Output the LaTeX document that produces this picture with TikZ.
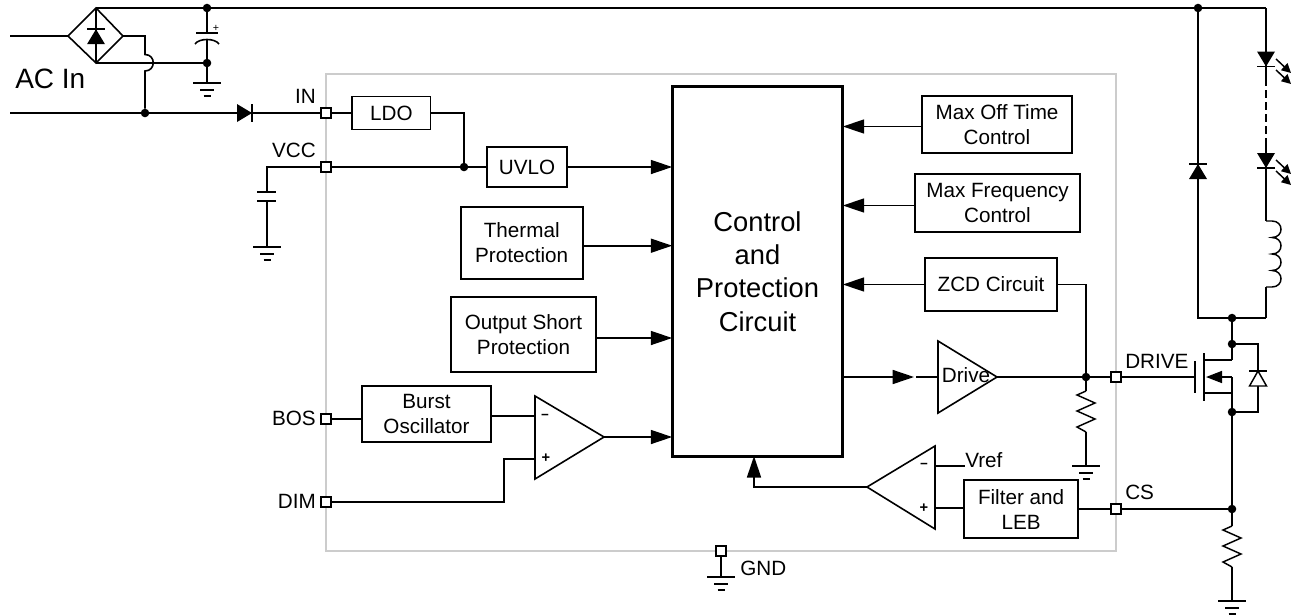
\documentclass[tikz,border=0pt]{standalone}
\usepackage{fontspec}
\setmainfont{Liberation Sans}
\usepackage{xcolor}
\definecolor{chipgray}{HTML}{CCCCCC}
\usepackage{tikz}
\usetikzlibrary{arrows.meta,calc}
\tikzset{
    gnd/.pic={\draw[line width=1.1pt,-] (-14,0) -- (14,0) (-7,7) -- (7,7) (-3.5,13) -- (3.5,13);},
    zigzag/.pic={\draw[line width=1.1pt,-] (0,0) -- (-9,4) -- (9,12) -- (-9,20) -- (9,28) -- (-9,36) -- (0,41);},
    diode/.pic={\fill (0,-7.5) -- (-9,7.5) -- (9,7.5) -- cycle;
                \draw[line width=1.1pt,-] (-9,-7.5) -- (9,-7.5);},
    bodydiode/.pic={\draw[fill=white,line width=1.1pt] (0,-7.5) -- (-8.5,7.5) -- (8.5,7.5) -- cycle;
                \draw[line width=1.1pt,-] (-9,-7.5) -- (9,-7.5);},
    glow/.pic={\draw[line width=1.1pt,-{Triangle[length=7pt,width=7pt]}] (0,0) -- (15,14);
               \draw[line width=1.1pt,-{Triangle[length=7pt,width=7pt]}] (0,11) -- (15,25);},
    coil/.pic={\draw[line width=1.1pt,-] (0,0) -- (6,0) .. controls +(12,0) and +(12,0) .. (6,16.5)
                    .. controls +(12,0) and +(12,0) .. (6,33) .. controls +(12,0) and +(12,0) .. (6,49.5)
                    .. controls +(12,0) and +(12,0) .. (6,66) -- (0,66);}
}
\begin{document}
\begin{tikzpicture}[x=0.75pt,y=-0.75pt,>={Triangle[length=16pt,width=10.5pt]},font=\fontsize{15.5}{18.75}\selectfont]
            \tikzstyle{wire}=[line width=1.2pt]
            \tikzstyle{feed}=[line width=1.2pt,->]
            \tikzstyle{block}=[draw,line width=1.2pt,align=center,inner sep=0pt,outer sep=0pt]
            \tikzstyle{pinbox}=[draw,fill=white,line width=1.1pt,minimum size=7.8pt,inner sep=0pt,outer sep=0pt]
            \tikzstyle{dot}=[circle,fill=black,minimum size=6.4pt,inner sep=0pt,outer sep=0pt]
            \tikzstyle{tag}=[inner sep=0pt]

            \useasboundingbox (0,0) rectangle (1294,615);
            \draw[chipgray,line width=0.8pt] (326,74) rectangle (1116,551);

            \node[pinbox] (pinIN)    at (326,113)  {};
            \node[pinbox] (pinVCC)   at (326,167)  {};
            \node[pinbox] (pinBOS)   at (326,419)  {};
            \node[pinbox] (pinDIM)   at (326,502)  {};
            \node[pinbox] (pinDRIVE) at (1116,377) {};
            \node[pinbox] (pinCS)    at (1116,509) {};
            \node[pinbox] (pinGND)   at (721,551)  {};

            \node[tag,anchor=east] (tIN)    at (316,96)   {IN};
            \node[tag,anchor=east] (tVCC)   at (316,150)  {VCC};
            \node[tag,anchor=east] (tBOS)   at (316,418)  {BOS};
            \node[tag,anchor=east] (tDIM)   at (316,501)  {DIM};
            \node[tag,anchor=west] (tDRIVE) at (1125,361) {DRIVE};
            \node[tag,anchor=west] (tCS)    at (1125,492) {CS};
            \node[tag,anchor=west] (tGND)   at (740,568)  {GND};
            \node[tag,anchor=west] (tVREF)  at (965,460)  {Vref};
            \node[tag,anchor=west,font=\fontsize{21}{25}\selectfont] (tAC) at (15,79) {AC In};

            \node[block,line width=2.2pt,minimum width=128pt,minimum height=277pt,font=\fontsize{20.5}{25}\selectfont]
                 (CTRL) at (757.5,271.5) {Control\\and\\Protection\\Circuit};
            \node[block,minimum width=59pt,minimum height=24.75pt] (LDO)  [right of=pinIN,node distance=49pt]   {LDO};
            \node[block,minimum width=60pt,minimum height=30pt]    (UVLO) at (527,167)    {UVLO};
            \node[block,minimum width=91.5pt,minimum height=54pt]  (THRM) at (521.7,243)  {Thermal\\Protection};
            \node[block,minimum width=109pt,minimum height=56pt]   (OUTS) at (523.5,334.5) {Output Short\\Protection};
            \node[block,minimum width=97pt,minimum height=42pt]    (BURST) at (426.5,414) {Burst\\Oscillator};
            \node[block,minimum width=112.5pt,minimum height=43pt] (MOFF) at (997,124.5)  {Max Off Time\\Control};
            \node[block,minimum width=124pt,minimum height=43.5pt] (MFRQ) at (997.5,203)  {Max Frequency\\Control};
            \node[block,minimum width=99pt,minimum height=39.5pt]  (ZCD)  at (991,284.5)  {ZCD Circuit};
            \node[block,minimum width=85.5pt,minimum height=43.5pt] (FLT) [left of=pinCS,node distance=71.2pt] {Filter and\\LEB};

            \node[dot] (jCap)  at (207,8)    {};
            \node[dot] (jLow)  at (207,63)   {};
            \node[dot] (jAC)   at (145,113)  {};
            \node[dot] (jTop)  at (1198,8)   {};
            \node[dot] (jUV)   at (464,167)  {};
            \node[dot] (jDrv)  at (1086,377) {};
            \node[dot] (jSw)   at (1232,318) {};
            \node[dot] (jD)    at (1232,344) {};
            \node[dot] (jS)    at (1232,412) {};
            \node[dot] (jCS)   at (1232,509) {};

            \coordinate (brT) at (96,8);
            \coordinate (brB) at (96,63);
            \coordinate (brL) at (68,36);
            \coordinate (brR) at (123,36);
            \coordinate (acA) at (10,36);
            \coordinate (acB) at (10,113);
            \coordinate (hopA) at (145,54.5);
            \coordinate (hopB) at (145,71);
            \coordinate (capA) at (207,33);
            \coordinate (capB) at (207,39);
            \coordinate (gA) at (207,83);
            \coordinate (gB) at (267,247);
            \coordinate (gC) at (1086,466);
            \coordinate (gD) at (1232,601);
            \coordinate (gE) at (721,577);
            \coordinate (vcA) at (267,192);
            \coordinate (vcB) at (267,201);
            \coordinate (rAa) at (1086,391);
            \coordinate (rAb) at (1086,432);
            \coordinate (rBa) at (1232,526);
            \coordinate (rBb) at (1232,567);
            \coordinate (ledT) at (1266,8);
            \coordinate (ledA) at (1266,66);
            \coordinate (ledB) at (1266,78);
            \coordinate (ledC) at (1266,142);
            \coordinate (ledD) at (1266,168);
            \coordinate (lA) at (1266,221);
            \coordinate (lB) at (1266,287);
            \coordinate (swL) at (1198,318);
            \coordinate (swR) at (1266,318);
            \coordinate (gate) at (1195,377);
            \coordinate (chT) at (1204,353);
            \coordinate (chB) at (1204,401);
            \coordinate (mD) at (1204,360);
            \coordinate (mDr) at (1232,360);
            \coordinate (mM) at (1206,377);
            \coordinate (mMr) at (1232,377);
            \coordinate (mS) at (1204,393);
            \coordinate (mSr) at (1232,393);
            \coordinate (cAm) at (535,416);
            \coordinate (cAp) at (535,459);
            \coordinate (cAo) at (604,437);
            \coordinate (cBm) at (935,466);
            \coordinate (cBp) at (935,508);
            \coordinate (cBo) at (867,487);
            \coordinate (drvI) at (938,377);
            \coordinate (drvO) at (997,377);
            \coordinate (drvM) at (916,377);

            \draw[wire] (brL) -- (brT) -- (brR) -- (brB) -- cycle;
            \draw[wire] (brT) -- (brB);
            \draw[wire] (brR) -- (hopA |- brR) -- (hopA) .. controls +(11,0) and +(11,0) .. (hopB) -- (jAC);
            \draw[wire] (535,396) -- (cAo) -- (535,479) -- cycle;
            \draw[wire] (935,446) -- (cBo) -- (935,529) -- cycle;
            \draw[wire] (drvI |- 0,341) -- (drvO) -- (drvI |- 0,413) -- cycle;
            \node[tag] (tDRV) at (966,375) {Drive};
            \node[tag] (mAm) at (545,417) {\fontsize{10}{12}\selectfont\textbf{\char"2212}};
            \node[tag] (mAp) at (546,458) {\fontsize{11}{12}\selectfont\textbf{+}};
            \node[tag] (mBm) at (924,466) {\fontsize{10}{12}\selectfont\textbf{\char"2212}};
            \node[tag] (mBp) at (924,508) {\fontsize{11}{12}\selectfont\textbf{+}};
            \node[tag] (mC)  at (216,28)  {\fontsize{8}{9}\selectfont +};

            \path (acA)    edge [wire] (brL)
                  (brT)    edge [wire] (jCap)
                  (jCap)   edge [wire] (jTop)
                           edge [wire] (capA)
                  (capB)   edge [wire] (jLow)
                  (brB)    edge [wire] (jLow)
                  (jLow)   edge [wire] (gA)
                  (acB)    edge [wire] (jAC)
                  (jAC)    edge [wire] (pinIN)
                  (pinIN)  edge [wire] (LDO)
                  (pinVCC) edge [wire] (jUV)
                  (jUV)    edge [wire] (UVLO)
                  (vcB)    edge [wire] (gB)
                  (pinBOS) edge [wire] (BURST.west |- pinBOS)
                  (cBp)    edge [wire] (FLT.west |- cBp)
                  (FLT)    edge [wire] (pinCS)
                  (pinCS)  edge [wire] (jCS)
                  (CTRL.east |- drvM) edge [feed] (914,377)
                  (drvM)   edge [wire] (drvI)
                  (drvO)   edge [wire] (jDrv)
                  (jDrv)   edge [wire] (pinDRIVE)
                           edge [wire] (rAa)
                  (rAb)    edge [wire] (gC)
                  (jTop)   edge [wire] (ledT)
                  (ledA)   edge [wire] (ledB)
                  (ledB)   edge [wire,dashed,dash pattern=on 6pt off 3pt] (ledC)
                  (ledC)   edge [wire] (ledD)
                  (ledD)   edge [wire] (lA)
                  (lB)     edge [wire] (swR)
                  (jSw)    edge [wire] (jD)
                  (jD)     edge [wire] (mDr)
                  (mSr)    edge [wire] (jS)
                  (jS)     edge [wire] (jCS)
                  (jCS)    edge [wire] (rBa)
                  (rBb)    edge [wire] (gD)
                  (pinGND) edge [wire] (gE)
                  (cBm)    edge [wire] (tVREF.west |- cBm)
                  (pinDRIVE) edge [wire] (gate)
                  (chT)    edge [wire] (chB)
                  (mD)     edge [wire] (mDr)
                  (mS)     edge [wire,line width=1.6pt] (mSr)
                  (UVLO)   edge [feed] (UVLO -| CTRL.west)
                  (THRM.east |- 0,245.7) edge [feed] (CTRL.west |- 0,245.7)
                  (OUTS.east |- 0,338)   edge [feed] (CTRL.west |- 0,338)
                  (cAo)    edge [feed] (cAo -| CTRL.west)
                  (MOFF.west |- 0,126.5) edge [feed] (CTRL.east |- 0,126.5)
                  (MFRQ.west |- 0,205.5) edge [feed] (CTRL.east |- 0,205.5)
                  (ZCD)    edge [feed] (ZCD -| CTRL.east);

            \draw[wire] (pinVCC) -| (vcA);
            \draw[wire] (LDO) -| (jUV);
            \draw[wire] (BURST.east |- cAm) -- (cAm);
            \draw[wire] (pinDIM) -- (504,502) -- (504,459) -- (cAp);
            \draw[wire] (ZCD) -| (jDrv);
            \draw[wire] (ledT) -- (ledA);
            \draw[wire] (jTop) -- (swL) -- (swR);
            \draw[wire] (mMr) -- (mSr);
            \draw[wire] (jD) -- (1258,344) -- (1258,412) -- (jS);
            \draw[feed] (cBo) -- (754,487) -- (CTRL.south -| 754,487);
            \draw[wire,{Triangle[length=12pt,width=9pt]}-] (mM) -- (mMr);
            \draw[wire] (gate |- 0,361) -- (gate |- 0,393);

            \draw[wire] (196,33) -- (218,33);
            \draw[wire] (195,44) .. controls (199,38) and (215,38) .. (219,44);
            \draw[wire] (257,192) -- (276,192) (257,201) -- (276,201);

            \pic at (gA) {gnd};
            \pic at (gB) {gnd};
            \pic at (gC) {gnd};
            \pic at (gD) {gnd};
            \pic at (gE) {gnd};
            \pic at (rAa) {zigzag};
            \pic at (rBa) {zigzag};
            \pic at (lA) {coil};
            \pic at (96,36.7) {diode};
            \pic[rotate=-90] at (244.5,113) {diode};
            \pic at (1198,171.5) {diode};
            \pic[rotate=180] at (1266,59) {diode};
            \pic[rotate=180] at (1266,160.5) {diode};
            \pic at (1258,378.5) {bodydiode};
            \pic at (1276,59) {glow};
            \pic at (1276,160) {glow};
\end{tikzpicture}
\end{document}
